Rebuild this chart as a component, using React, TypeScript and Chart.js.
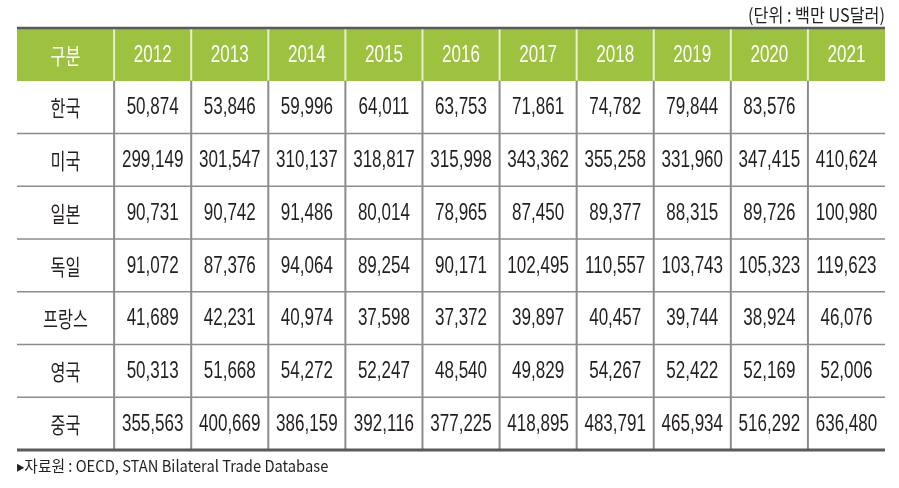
import React, { useEffect, useRef } from "react";
import { Chart, registerables } from "chart.js";

Chart.register(...registerables);

const headerLabel = "구분";
const years = ["2012", "2013", "2014", "2015", "2016", "2017", "2018", "2019", "2020", "2021"];
const countries = ["한국", "미국", "일본", "독일", "프랑스", "영국", "중국"];
const korea = [50874, 53846, 59996, 64011, 63753, 71861, 74782, 79844, 83576, null];
const usa = [299149, 301547, 310137, 318817, 315998, 343362, 355258, 331960, 347415, 410624];
const japan = [90731, 90742, 91486, 80014, 78965, 87450, 89377, 88315, 89726, 100980];
const germany = [91072, 87376, 94064, 89254, 90171, 102495, 110557, 103743, 105323, 119623];
const france = [41689, 42231, 40974, 37598, 37372, 39897, 40457, 39744, 38924, 46076];
const uk = [50313, 51668, 54272, 52247, 48540, 49829, 54267, 52422, 52169, 52006];
const china = [355563, 400669, 386159, 392116, 377225, 418895, 483791, 465934, 516292, 636480];
const unitText = "(단위 : 백만 US달러)";
const sourceText = "▸자료원 : OECD, STAN Bilateral Trade Database";

const tableRows = [korea, usa, japan, germany, france, uk, china];

const FIRST_COL_WEIGHT = 1.26;
const colEdges: number[] = [0, FIRST_COL_WEIGHT];
years.forEach((_, i) => colEdges.push(FIRST_COL_WEIGHT + i + 1));
const X_MAX = colEdges[colEdges.length - 1];

const GREEN = "#9dc23f";
const FONT = '"Liberation Sans", Arial, "Noto Sans CJK KR", sans-serif';
const KFONT = '"Noto Sans CJK KR", "Liberation Sans", sans-serif';
const CONDENSE = 0.74;

function fmt(v: number | null) {
  if (v === null || v === undefined) return "";
  return v.toLocaleString("en-US");
}

function drawText(ctx: CanvasRenderingContext2D, t: string, x: number, y: number, align: CanvasTextAlign, sx = CONDENSE) {
  ctx.save();
  ctx.translate(x, y);
  ctx.scale(sx, 1);
  ctx.textAlign = align;
  ctx.textBaseline = "middle";
  ctx.fillText(t, 0, 0);
  ctx.restore();
}

const tablePlugin = {
  id: "tablePlugin",
  afterDatasetsDraw(chart: any) {
    const ctx: CanvasRenderingContext2D = chart.ctx;
    const xs = chart.scales.x;
    const ys = chart.scales.y;
    const area = chart.chartArea;
    const rowLabels = [headerLabel, ...countries];
    const half = (ys.getPixelForValue(1) - ys.getPixelForValue(0)) / 2;
    const rowTop = (i: number) => ys.getPixelForValue(i) - half;
    const rowBottom = (i: number) => ys.getPixelForValue(i) + half;
    const colX = (i: number) => xs.getPixelForValue(colEdges[i]);
    const colMid = (i: number) => (colX(i) + colX(i + 1)) / 2;

    ctx.save();
    // header column separators (pale)
    ctx.strokeStyle = "#e6efcc";
    ctx.lineWidth = 2;
    for (let c = 1; c < colEdges.length - 1; c++) {
      ctx.beginPath();
      ctx.moveTo(colX(c), rowTop(0));
      ctx.lineTo(colX(c), rowBottom(0));
      ctx.stroke();
    }
    // body vertical separators
    ctx.strokeStyle = "#8c8c8c";
    ctx.lineWidth = 2;
    for (let c = 1; c < colEdges.length - 1; c++) {
      ctx.beginPath();
      ctx.moveTo(colX(c), rowBottom(0));
      ctx.lineTo(colX(c), rowBottom(rowLabels.length - 1));
      ctx.stroke();
    }
    // body horizontal separators
    ctx.lineWidth = 1.5;
    for (let r = 1; r < rowLabels.length - 1; r++) {
      ctx.beginPath();
      ctx.moveTo(area.left, rowBottom(r));
      ctx.lineTo(area.right, rowBottom(r));
      ctx.stroke();
    }
    // top and bottom borders
    ctx.strokeStyle = "#5a5a5a";
    ctx.lineWidth = 2.5;
    ctx.beginPath();
    ctx.moveTo(area.left, rowTop(0));
    ctx.lineTo(area.right, rowTop(0));
    ctx.stroke();
    ctx.lineWidth = 3;
    ctx.beginPath();
    ctx.moveTo(area.left, rowBottom(rowLabels.length - 1));
    ctx.lineTo(area.right, rowBottom(rowLabels.length - 1));
    ctx.stroke();

    // header text
    ctx.fillStyle = "#ffffff";
    ctx.font = `22px ${KFONT}`;
    drawText(ctx, headerLabel, colMid(0), ys.getPixelForValue(0) + 1, "center");
    ctx.font = `23px ${FONT}`;
    years.forEach((y, i) => drawText(ctx, y, colMid(i + 1), ys.getPixelForValue(0) + 1, "center"));

    // body
    ctx.fillStyle = "#231f20";
    countries.forEach((c, r) => {
      const yMid = ys.getPixelForValue(r + 1) + 1;
      ctx.font = `22px ${KFONT}`;
      drawText(ctx, c, colMid(0), yMid, "center");
      ctx.font = `23px ${FONT}`;
      tableRows[r].forEach((v, i) => drawText(ctx, fmt(v), colMid(i + 1), yMid, "center"));
    });

    // unit and source
    ctx.fillStyle = "#231f20";
    ctx.font = `18px ${KFONT}`;
    drawText(ctx, unitText, area.right, 15, "right", 0.9);
    ctx.font = `16px ${KFONT}`;
    drawText(ctx, sourceText, area.left, 466, "left", 0.92);
    ctx.restore();
  },
};

export default function App() {
  const ref = useRef<HTMLCanvasElement | null>(null);
  useEffect(() => {
    if (!ref.current) return;
    const rowLabels = [headerLabel, ...countries];
    const chart = new Chart(ref.current, {
      type: "bar",
      data: {
        labels: rowLabels,
        datasets: [
          {
            data: rowLabels.map((_, i) => (i === 0 ? [0, X_MAX] : null)) as any,
            backgroundColor: GREEN,
            borderWidth: 0,
            barPercentage: 1,
            categoryPercentage: 1,
          },
        ],
      },
      options: {
        indexAxis: "y",
        responsive: false,
        animation: false,
        layout: { padding: { left: 17, right: 14, top: 28, bottom: 38 } },
        plugins: { legend: { display: false }, tooltip: { enabled: false }, title: { display: false } },
        scales: {
          x: { type: "linear", min: 0, max: X_MAX, display: false },
          y: { type: "category", offset: true, display: false },
        },
      },
      plugins: [tablePlugin],
    });
    return () => chart.destroy();
  }, []);
  return (
    <div style={{ position: "absolute", left: 0, top: 0, width: 899, height: 488, background: "#fff" }}>
      <canvas ref={ref} width={899} height={488} />
    </div>
  );
}
